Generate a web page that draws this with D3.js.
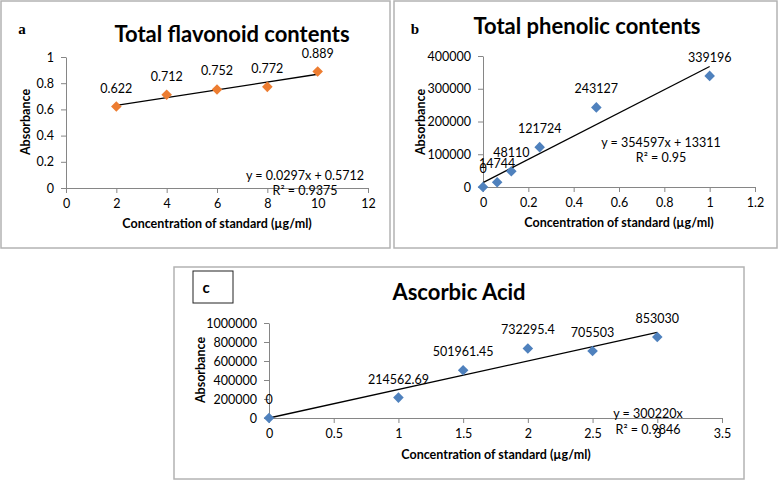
<!DOCTYPE html>
<html>
<head>
<meta charset="utf-8">
<script src="https://cdn.jsdelivr.net/npm/d3@7/dist/d3.min.js"></script>
<style>
  html, body { margin: 0; padding: 0; background: #fff; }
  svg { display: block; font-family: Lato, "Open Sans", sans-serif; }
</style>
</head>
<body>
<svg id="chart" width="778" height="480"></svg>
<script>
// (a) total flavonoid contents
const flavConc = [2, 4, 6, 8, 10];
const flavAbs = [0.622, 0.712, 0.752, 0.772, 0.889];
const flavTrend = [0.0297, 0.5712]; // slope, intercept
const flavXTicks = [0, 2, 4, 6, 8, 10, 12];
const flavYTicks = [0, 0.2, 0.4, 0.6, 0.8, 1];

// (b) total phenolic contents
const phenConc = [0, 0.0625, 0.125, 0.25, 0.5, 1];
const phenAbs = [0, 14744, 48110, 121724, 243127, 339196];
const phenTrend = [354597, 13311];
const phenXTicks = [0, 0.2, 0.4, 0.6, 0.8, 1, 1.2];
const phenYTicks = [0, 100000, 200000, 300000, 400000];

// (c) ascorbic acid
const ascConc = [0, 1, 1.5, 2, 2.5, 3];
const ascAbs = [0, 214562.69, 501961.45, 732295.4, 705503, 853030];
const ascTrend = [300220, 0];
const ascXTicks = [0, 0.5, 1, 1.5, 2, 2.5, 3, 3.5];
const ascYTicks = [0, 200000, 400000, 600000, 800000, 1000000];

const axisGray = "#868686";
const svg = d3.select("#chart");

function drawPanel(p) {
  const g = svg.append("g");

  g.append("rect")
    .attr("x", p.box[0]).attr("y", p.box[1])
    .attr("width", p.box[2] - p.box[0]).attr("height", p.box[3] - p.box[1])
    .attr("fill", "#fff").attr("stroke", "#b3b3b3").attr("stroke-width", 1.5);

  const x = d3.scaleLinear()
    .domain([p.xTicks[0], p.xTicks[p.xTicks.length - 1]])
    .range(p.xRange);
  const y = d3.scaleLinear()
    .domain([p.yTicks[0], p.yTicks[p.yTicks.length - 1]])
    .range(p.yRange);

  const xAxis = g.append("g")
    .attr("transform", `translate(0,${p.yRange[0]})`)
    .call(d3.axisBottom(x).tickValues(p.xTicks).tickFormat(String)
      .tickSize(5).tickSizeOuter(0).tickPadding(6));
  const yAxis = g.append("g")
    .attr("transform", `translate(${p.xRange[0]},0)`)
    .call(d3.axisLeft(y).tickValues(p.yTicks).tickFormat(String)
      .tickSize(5).tickSizeOuter(0).tickPadding(7));
  for (const ax of [xAxis, yAxis]) {
    ax.select(".domain").attr("stroke", axisGray);
    ax.selectAll(".tick line").attr("stroke", axisGray);
    ax.selectAll(".tick text")
      .attr("fill", "#000")
      .attr("font-size", 12.5)
      .attr("font-family", "Lato, sans-serif");
  }

  // trendline over the data range
  const xs = d3.extent(p.xs);
  g.append("path")
    .datum(xs)
    .attr("fill", "none")
    .attr("stroke", "#000")
    .attr("stroke-width", 1.3)
    .attr("d", d3.line().x((d) => x(d)).y((d) => y(p.trend[0] * d + p.trend[1])));

  const pts = p.xs.map((v, i) => ({ x: v, y: p.ys[i] }));
  const diamond = d3.symbol().type(d3.symbolSquare).size(56);
  g.selectAll("path.pt")
    .data(pts)
    .join("path")
    .attr("class", "pt")
    .attr("d", diamond)
    .attr("transform", (d) => `translate(${x(d.x)},${y(d.y)}) rotate(45)`)
    .attr("fill", p.color);

  g.selectAll("text.lbl")
    .data(pts)
    .join("text")
    .attr("class", "lbl")
    .attr("x", (d) => x(d.x))
    .attr("y", (d) => y(d.y) - 14)
    .attr("text-anchor", "middle")
    .attr("font-size", 12.5)
    .attr("fill", "#000")
    .text((d) => String(d.y));

  g.append("text")
    .attr("x", p.title[0]).attr("y", p.title[1])
    .attr("text-anchor", "middle")
    .attr("font-size", 22).attr("font-weight", 700)
    .text(p.titleText);

  g.append("text")
    .attr("transform", `translate(${p.yTitle[0]},${p.yTitle[1]}) rotate(-90)`)
    .attr("text-anchor", "middle").attr("dominant-baseline", "central")
    .attr("font-size", 12.5).attr("font-weight", 700)
    .text("Absorbance");

  g.append("text")
    .attr("x", p.xTitle[0]).attr("y", p.xTitle[1])
    .attr("text-anchor", "middle")
    .attr("font-size", 12.5).attr("font-weight", 700)
    .text("Concentration of standard (µg/ml)");

  p.eq.lines.forEach((line, i) => {
    g.append("text")
      .attr("x", p.eq.x).attr("y", p.eq.y[i])
      .attr("text-anchor", "middle")
      .attr("font-size", 12.5).attr("fill", "#000")
      .text(line);
  });

  return g;
}

const ga = drawPanel({
  box: [1, 1, 390, 248], xRange: [66, 368], yRange: [188, 57],
  xTicks: flavXTicks, yTicks: flavYTicks, xs: flavConc, ys: flavAbs,
  trend: flavTrend, color: "#ed7d31",
  titleText: "Total flavonoid contents", title: [232, 42],
  yTitle: [25, 122], xTitle: [217, 228],
  eq: { x: 305, y: [180, 195], lines: ["y = 0.0297x + 0.5712", "R² = 0.9375"] }
});
ga.append("text").attr("x", 22).attr("y", 34).attr("text-anchor", "middle")
  .attr("font-family", "'Liberation Serif', serif").attr("font-weight", 700)
  .attr("font-size", 15).text("a");

const gb = drawPanel({
  box: [394, 1, 777, 248], xRange: [483, 755], yRange: [187, 56],
  xTicks: phenXTicks, yTicks: phenYTicks, xs: phenConc, ys: phenAbs,
  trend: phenTrend, color: "#4f81bd",
  titleText: "Total phenolic contents", title: [587, 34],
  yTitle: [420, 122], xTitle: [619, 227],
  eq: { x: 661, y: [147, 162], lines: ["y = 354597x + 13311", "R² = 0.95"] }
});
gb.append("text").attr("x", 415).attr("y", 34).attr("text-anchor", "middle")
  .attr("font-family", "'Liberation Serif', serif").attr("font-weight", 700)
  .attr("font-size", 15).text("b");

const gc = drawPanel({
  box: [174, 267, 744, 479], xRange: [269, 722], yRange: [418, 323],
  xTicks: ascXTicks, yTicks: ascYTicks, xs: ascConc, ys: ascAbs,
  trend: ascTrend, color: "#4f81bd",
  titleText: "Ascorbic Acid", title: [459, 300],
  yTitle: [200, 370], xTitle: [496, 459],
  eq: { x: 648, y: [418, 434], lines: ["y = 300220x", "R² = 0.9846"] }
});
gc.append("rect").attr("x", 193).attr("y", 271).attr("width", 40).attr("height", 32)
  .attr("fill", "#fff").attr("stroke", "#222").attr("stroke-width", 1);
gc.append("text").attr("x", 206).attr("y", 293).attr("text-anchor", "middle")
  .attr("font-weight", 700).attr("font-size", 15).text("c");
</script>
</body>
</html>
